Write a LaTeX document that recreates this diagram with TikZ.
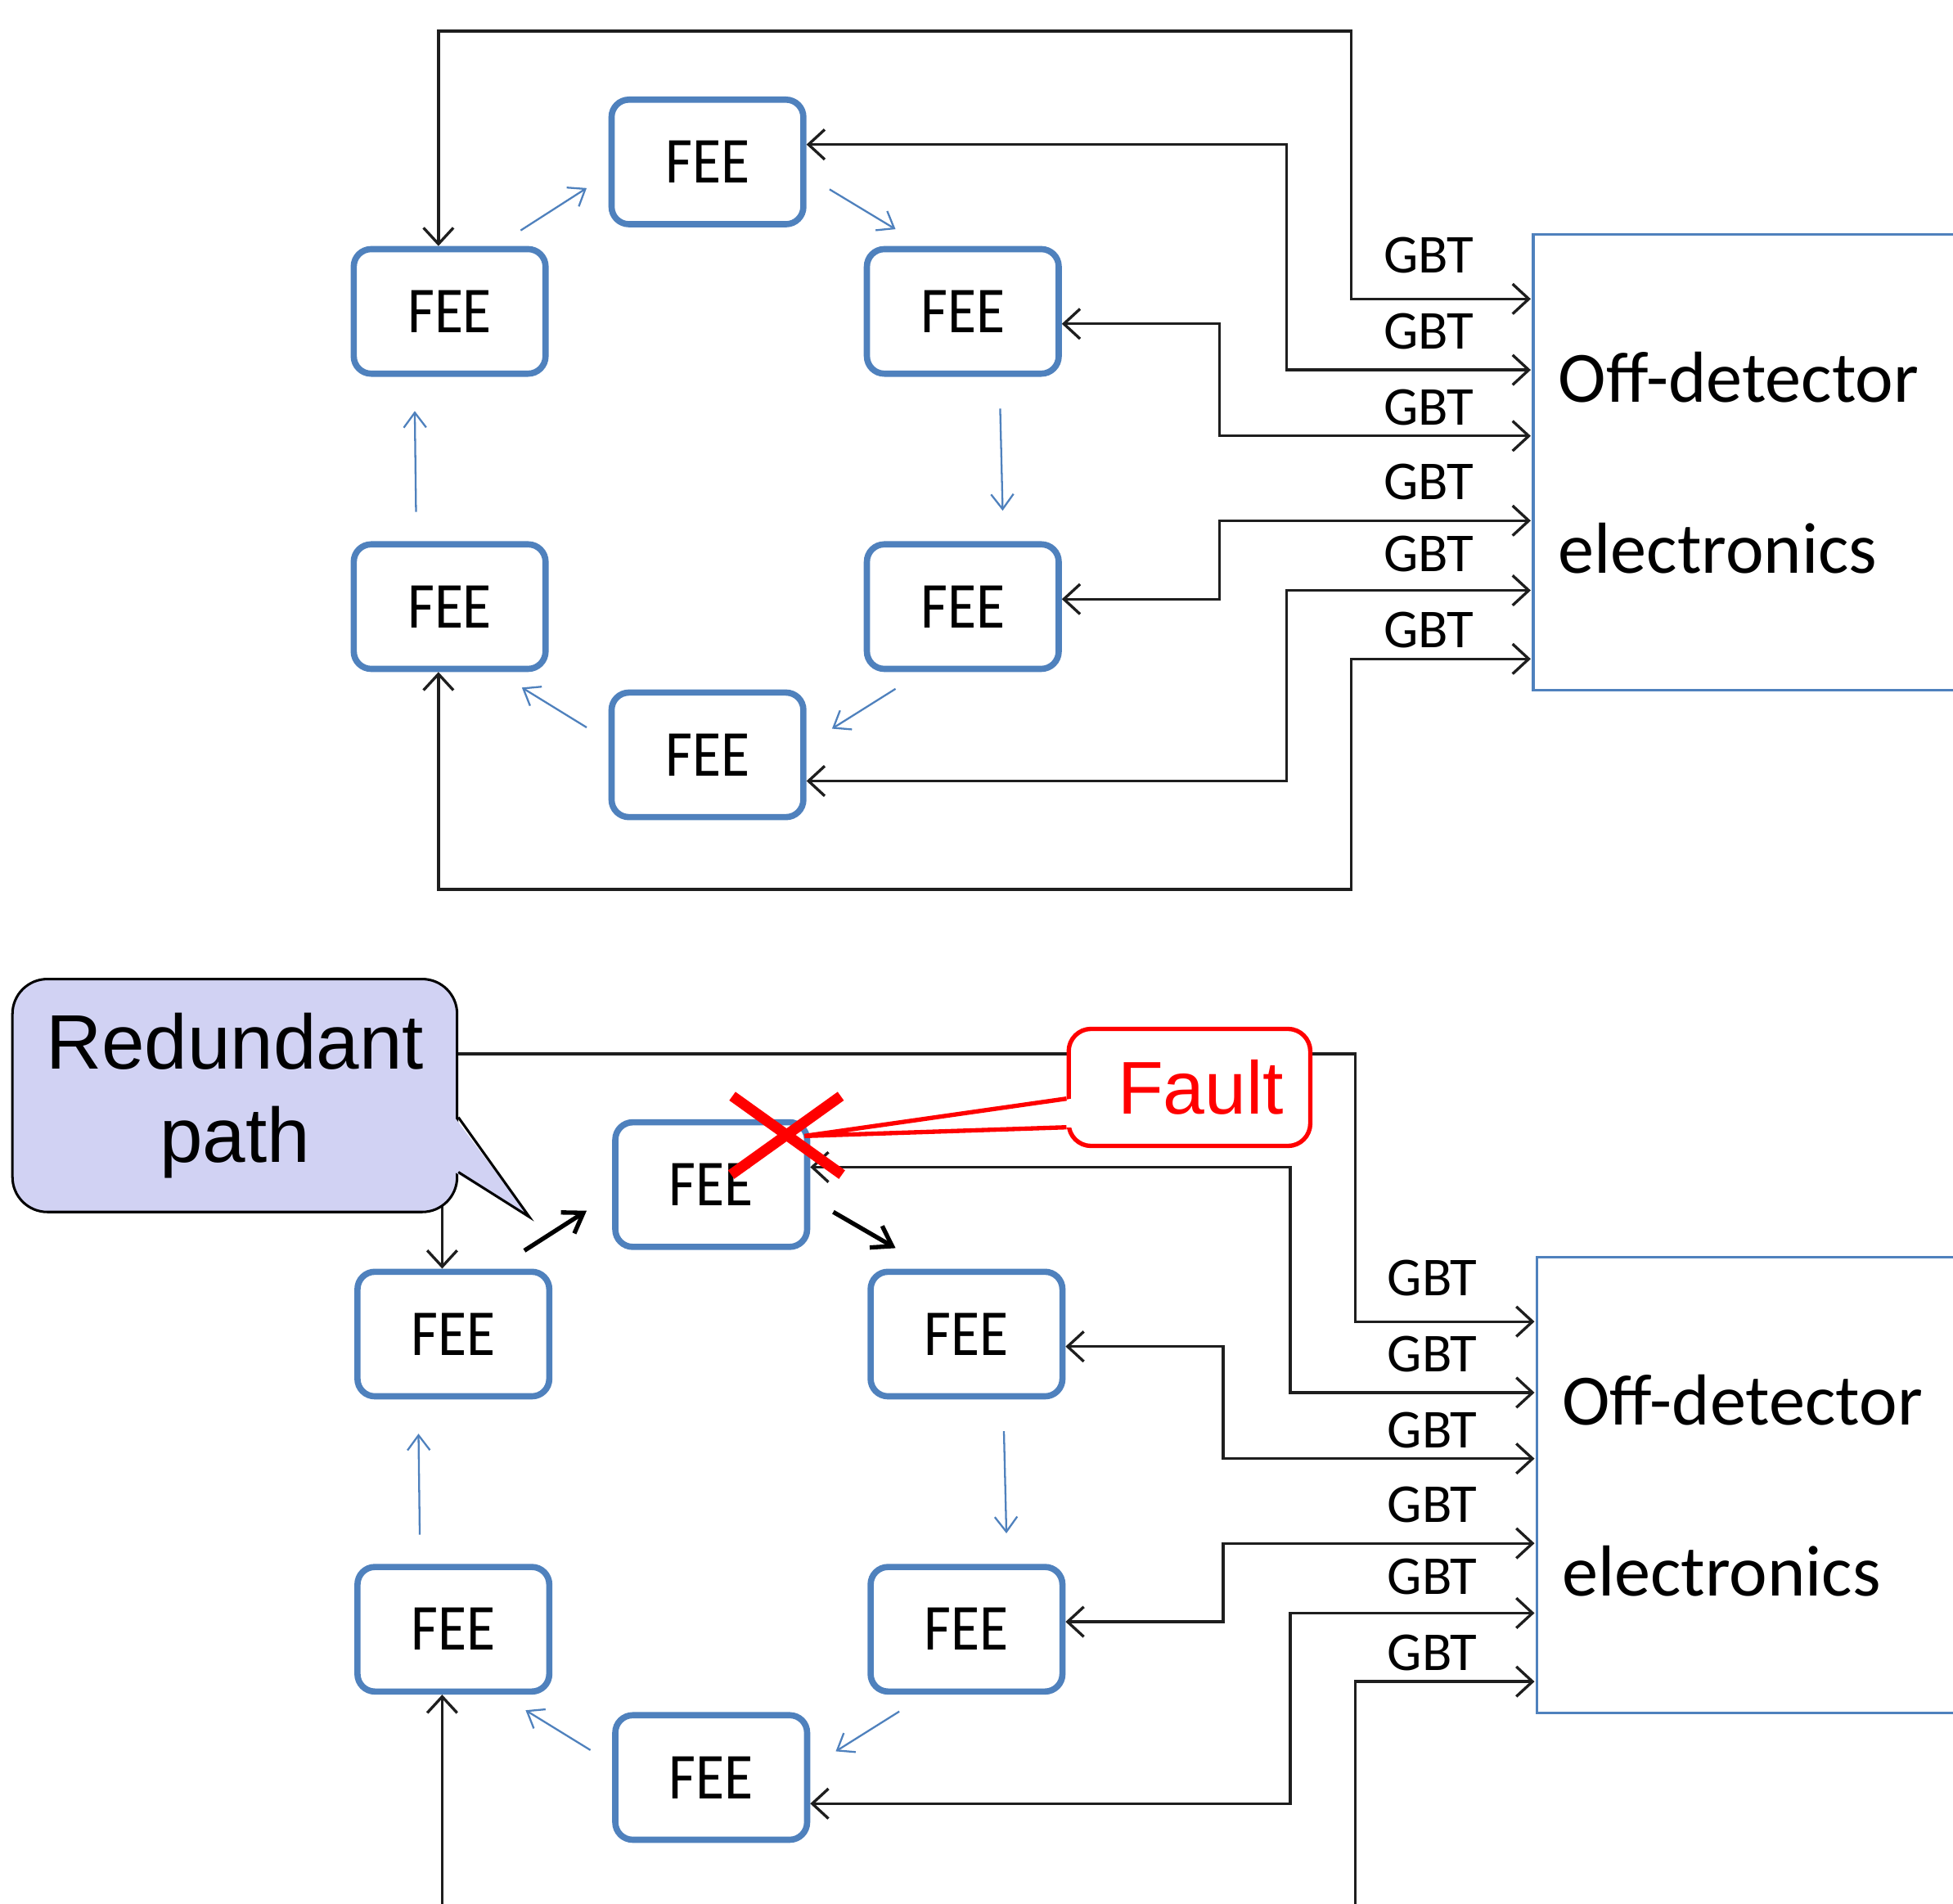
\documentclass[tikz,border=0pt]{standalone}
\usepackage{fontspec}
\usepackage{graphicx}
\setmainfont{Carlito}
\newfontfamily\arialfont{Liberation Sans}
\usetikzlibrary{arrows.meta}
\definecolor{feeblue}{RGB}{79,129,189}
\definecolor{lavfill}{RGB}{209,210,243}
\definecolor{linegray}{RGB}{30,30,30}
\definecolor{faultred}{RGB}{255,0,0}
\newcommand{\feetext}{\scalebox{1}[1.12]{FEE}}
\newcommand{\ringsystem}[1]{%
  \node[fee] (#1t)  at (568,130) {\feetext};
  \node[fee] (#1ul) at (361,250) {\feetext};
  \node[fee] (#1ur) at (773,250) {\feetext};
  \node[fee] (#1ll) at (361,487) {\feetext};
  \node[fee] (#1lr) at (773,487) {\feetext};
  \node[fee] (#1b)  at (568,606) {\feetext};
  \node[offbox, anchor=north west] (#1off) at (1230,187) {};
  \coordinate (#1g1) at (1229,240);
  \coordinate (#1g2) at (1229,297);
  \coordinate (#1g3) at (1229,350);
  \coordinate (#1g4) at (1229,418);
  \coordinate (#1g5) at (1229,474);
  \coordinate (#1g6) at (1229,529);
  \draw[link] ([xshift=-9pt]#1ul.north) |- (1085,25) -- (1085,240) -- (#1g1);
  \draw[link] ([yshift=14pt]#1t.east) -| (1033,297) -- (#1g2);
  \draw[link] ([yshift=-10pt]#1ur.east) -| (979,350) -- (#1g3);
  \draw[link] ([yshift=6pt]#1lr.east) -| (979,418) -- (#1g4);
  \draw[link] ([yshift=-21pt]#1b.east) -| (1033,474) -- (#1g5);
  \draw[link] ([xshift=-9pt]#1ll.south) |- (1085,714) -- (1085,529) -- (#1g6);
  \foreach \yy in {205,266,327,387,445,506} \node[gbt] (#1gbt\yy) at (1147,\yy) {GBT};
  \node[offtext] (#1offa) at (1251,303) {Off-detector};
  \node[offtext] (#1offb) at (1251,440) {electronics};
  \draw[ring] (803,328) -- (805,410);
  \draw[ring] (719,553) -- (668,585);
  \draw[ring] (471,584) -- (419,552);
  \draw[ring] (334,411) -- (333,330);
}
\begin{document}
\begin{tikzpicture}[x=1pt,y=-1pt,
  fee/.style={draw=feeblue, line width=5pt, fill=white, rounded corners=14pt,
    minimum width=154pt, minimum height=100pt, inner sep=0pt,
    font=\fontsize{47}{50}\selectfont},
  offbox/.style={draw=feeblue, line width=2pt, fill=white, minimum width=360pt,
    minimum height=366pt, inner sep=0pt},
  offtext/.style={anchor=west, inner sep=0pt, font=\fontsize{58}{60}\selectfont},
  gbt/.style={inner sep=0pt, font=\fontsize{44}{46}\selectfont},
  link/.style={line width=2.2pt, draw=linegray,
    {Straight Barb[length=13pt,width=24pt]}-{Straight Barb[length=13pt,width=24pt]}},
  ring/.style={line width=1.5pt, draw=feeblue, -{Straight Barb[length=12pt,width=18pt]}},
  redund/.style={line width=3.5pt, draw=black, -{Straight Barb[length=15pt,width=20pt]}},
  callbox/.style={rounded corners=28pt, draw=black, line width=2pt, fill=lavfill,
    minimum width=357pt, minimum height=187pt, align=center, inner sep=0pt,
    font=\arialfont\fontsize{62}{75}\selectfont},
  faultbox/.style={rounded corners=18pt, draw=faultred, line width=3.5pt, fill=white,
    minimum width=194pt, minimum height=94pt, inner sep=0pt, text=faultred,
    font=\arialfont\fontsize{60}{62}\selectfont},
  xline/.style={draw=faultred, line width=8.5pt}
]
\useasboundingbox (0,0) rectangle (1568,1528);
\fill[white] (0,0) rectangle (1568,1528);
\clip (0,0) rectangle (1568,1528);

\begin{scope}
  \ringsystem{a}
  \draw[ring] (418,185) -- (471,151);
  \draw[ring] (666,152) -- (719,184);
\end{scope}

\begin{scope}[shift={(3,821)}]
  \ringsystem{b}
  \draw[redund] (418,183) -- (468,151);
  \draw[redund] (666,152) -- (716,181);
\end{scope}

% red cross on the faulty FEE
\draw[xline] (588,880) -- (676,943);
\draw[xline] (675,880) -- (587,943);

% Fault callout
\node[faultbox] (fault) at (955,873) {\hspace*{18pt}Fault};
\fill[white] (861,882) -- (646,912) -- (861,905) -- cycle;
\draw[draw=faultred, line width=3.5pt, line join=miter] ([yshift=-9pt]fault.west) -- (646,912) -- ([yshift=-32pt]fault.west);

% Redundant path callout
\node[callbox] (redund) at (188.5,879.5) {Redundant\\path};
\fill[lavfill] (365,897) -- (425,977) -- (365,941) -- cycle;
\draw[black, line width=2pt, line join=miter] ([yshift=-17.5pt]redund.east) -- (425,977) -- ([yshift=-61.5pt]redund.east);
\end{tikzpicture}
\end{document}
